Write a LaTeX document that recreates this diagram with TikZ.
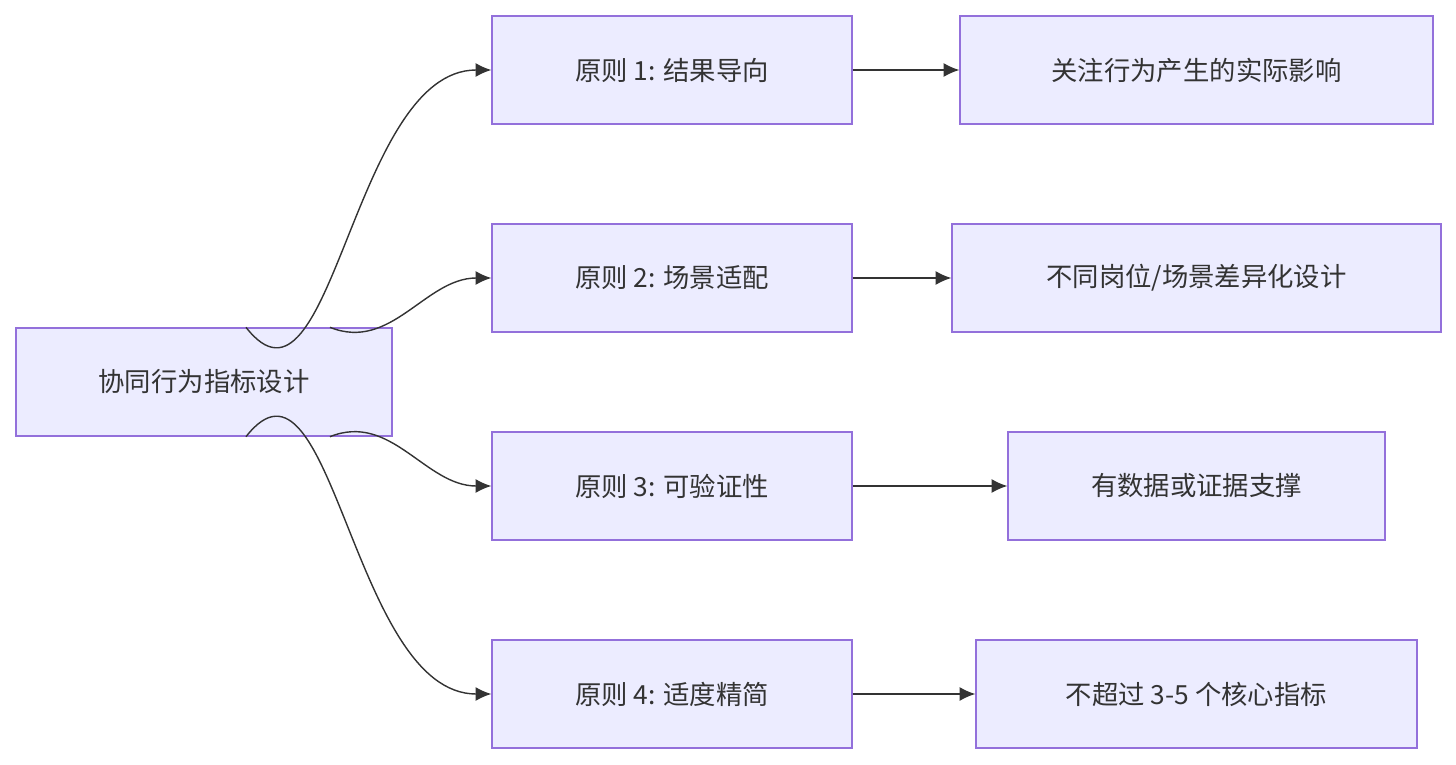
\documentclass[tikz,border=0pt]{standalone}
\usepackage{fontspec}
\setmainfont{Noto Sans CJK SC}
\usetikzlibrary{positioning,arrows.meta}
\definecolor{boxfill}{HTML}{ECECFF}
\definecolor{boxline}{HTML}{9370DB}
\definecolor{linkcol}{HTML}{333333}
\tikzset{
    block/.style={rectangle, draw=boxline, fill=boxfill, line width=0.8pt,
        minimum height=2.16cm, text=linkcol, font=\fontsize{15}{18}\selectfont},
    link/.style={-{Latex[length=9pt,width=8pt]}, draw=linkcol, line width=0.8pt}
}
\begin{document}
\begin{tikzpicture}[x=0.02cm, y=-0.02cm]
            \useasboundingbox (0,0) rectangle (1456,764);
            % Nodes
            \node [block, minimum width=7.52cm] (design) at (204,382) {协同行为指标设计};
            \node [block, minimum width=7.2cm] (rule1) at (672,70) {原则 1: 结果导向};
            \node [block, minimum width=7.2cm] (rule2) at (672,278) {原则 2: 场景适配};
            \node [block, minimum width=7.2cm] (rule3) at (672,486) {原则 3: 可验证性};
            \node [block, minimum width=7.2cm] (rule4) at (672,694) {原则 4: 适度精简};
            \node [block, minimum width=9.46cm] (note1) at (1196.5,70) {关注行为产生的实际影响};
            \node [block, minimum width=9.78cm] (note2) at (1196.5,278) {不同岗位/场景差异化设计};
            \node [block, minimum width=7.54cm] (note3) at (1196.5,486) {有数据或证据支撑};
            \node [block, minimum width=8.82cm] (note4) at (1196.5,694) {不超过 3-5 个核心指标};

            % Connections
            \draw [link] ([xshift=0.84cm]design.north) to[out=-52,in=180] (rule1.west);
            \draw [link] ([xshift=2.52cm]design.north) to[out=-22,in=180] (rule2.west);
            \draw [link] ([xshift=2.52cm]design.south) to[out=22,in=180] (rule3.west);
            \draw [link] ([xshift=0.84cm]design.south) to[out=52,in=180] (rule4.west);
            \foreach \i in {1,...,4}
                \draw [link] (rule\i.east) -- (note\i.west);
\end{tikzpicture}
\end{document}
